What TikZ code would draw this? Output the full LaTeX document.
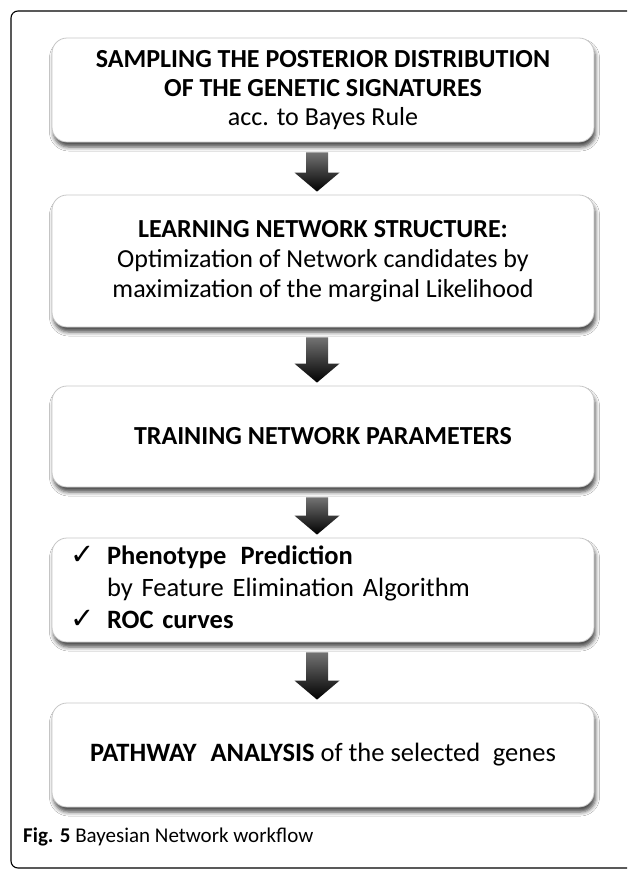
\documentclass[tikz,border=0pt]{standalone}
\usepackage{fontspec}
\setmainfont{Carlito}
\newfontfamily\symfont{DejaVu Sans}
\usetikzlibrary{calc,shadows.blur}
\tikzset{
  x=1pt, y=-1pt,
  stepbox/.style={draw=black!22, line width=0.8pt, fill=white, rounded corners=15pt,
    minimum width=542pt, inner sep=0pt, align=center,
    font=\fontsize{26}{30}\selectfont,
    blur shadow={shadow xshift=1.5pt, shadow yshift=-5pt, shadow blur radius=4pt, shadow opacity=70}},
  arrowfill/.style={top color=black!55, bottom color=black, draw=none},
  frame/.style={draw=black, line width=1.1pt, rounded corners=7pt}
}
\newcommand\flowarrow[2]{%
  \path[arrowfill] let \p1=(#1.south), \p2=(#2.north) in
    (\x1-6pt-11pt, \y1-10pt) -- (\x1-6pt+11pt, \y1-10pt)
    -- (\x1-6pt+11pt, \y2+22pt) -- (\x1-6pt+22.5pt, \y2+22pt)
    -- (\x1-6pt, \y2+3pt) -- (\x1-6pt-22.5pt, \y2+22pt)
    -- (\x1-6pt-11pt, \y2+22pt) -- cycle;}
\newcommand\chk{{\symfont\fontsize{29}{32}\selectfont ✓}}
\begin{document}
\begin{tikzpicture}
\useasboundingbox (0,0) rectangle (627,873);
\clip (0,0) rectangle (627,873);
\fill[white] (0,0) rectangle (627,873);
\draw[frame] (11,11) rectangle (660,868);

\node[stepbox, minimum height=104pt, font=\fontsize{26}{29}\selectfont] (b1) at (323,90)
  {\textbf{SAMPLING THE POSTERIOR DISTRIBUTION}\\
   \textbf{OF THE GENETIC SIGNATURES}\\
   acc. to Bayes Rule};
\node[stepbox, minimum height=132pt] (b2) at (323,261)
  {\textbf{LEARNING NETWORK STRUCTURE:}\\
   Optimization of Network candidates by\\
   maximization of the marginal Likelihood};
\node[stepbox, minimum height=101pt] (b3) at (323,436.5)
  {\textbf{TRAINING NETWORK PARAMETERS}};
\node[stepbox, minimum height=104pt, text width=506pt, inner xsep=18pt, align=left,
      font=\fontsize{26.5}{32}\selectfont] (b4) at (323,590)
  {\begin{tabular}{@{}p{37pt}@{}l@{}}
   \chk & \textbf{Phenotype\hspace{0.2em} Prediction}\\
   & by Feature Elimination Algorithm\\
   \chk & \textbf{ROC curves}
   \end{tabular}};
\node[stepbox, minimum height=104pt, font=\fontsize{26.5}{32}\selectfont] (b5) at (323,755)
  {\textbf{PATHWAY\hspace{0.3em} ANALYSIS} of the selected\hspace{0.25em} genes};

\flowarrow{b1}{b2}
\flowarrow{b2}{b3}
\flowarrow{b3}{b4}
\flowarrow{b4}{b5}

\node[anchor=west, inner sep=0pt, font=\fontsize{21}{24}\selectfont] (cap) at (23,837)
  {\textbf{Fig. 5} Bayesian Network workflow};
\end{tikzpicture}
\end{document}
